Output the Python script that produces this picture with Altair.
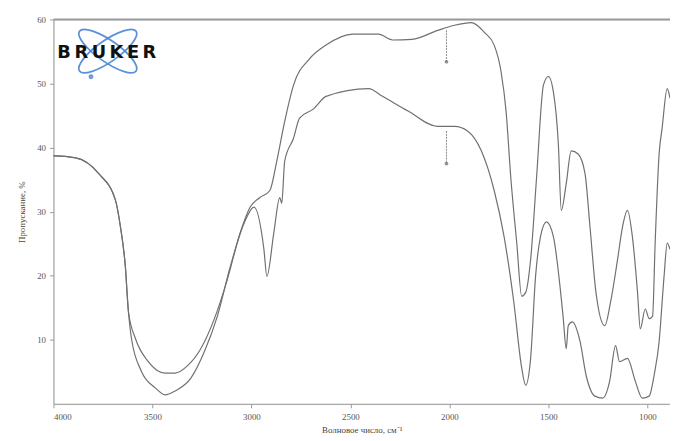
import altair as alt
import pandas as pd

# ---- data (wavenumber, cm-1 / transmittance, %) ----
common_wn = [4000, 3992, 3887, 3770, 3687, 3662, 3637, 3621]
common_t = [38.7, 38.7, 38.4, 35.9, 31.8, 27.7, 21.5, 14.3]

upper_wn = [3586, 3521, 3436, 3386, 3321, 3256, 3187, 3122, 3057, 3007, 2957, 2907,
            2872, 2832, 2787, 2708, 2623, 2488, 2408, 2358, 2288, 2189, 2059, 1974,
            1889, 1824, 1774, 1739, 1714, 1690, 1660, 1635, 1615, 1590, 1560, 1525,
            1500, 1475, 1450, 1435, 1410, 1385, 1350, 1315, 1290, 1260, 1216, 1186,
            1151, 1126, 1101, 1076, 1050, 1036, 1011, 991, 974, 961, 941, 926, 900, 886]
upper_t = [10.2, 6.6, 4.8, 4.8, 6.0, 8.6, 13.3, 19.4, 26.7, 30.7, 32.2, 33.3,
           37.9, 44.1, 49.8, 53.8, 56.0, 57.7, 57.7, 57.7, 56.8, 56.9, 58.3, 59.1,
           59.5, 58.0, 56.0, 51.8, 45.7, 35.3, 25.1, 16.8, 17.4, 22.5, 35.3, 49.8,
           51.1, 48.7, 40.6, 30.2, 34.4, 39.5, 39.0, 35.9, 27.6, 17.4, 12.2, 15.9,
           22.5, 27.6, 30.2, 26.1, 17.4, 11.7, 14.8, 13.3, 13.7, 25.1, 39.0, 43.0, 49.2, 47.7]

lower_wn = [3606, 3556, 3486, 3436, 3386, 3306, 3237, 3172, 3107, 3037, 2987, 2937,
            2922, 2887, 2857, 2847, 2832, 2787, 2757, 2688, 2623, 2408, 2338, 2209,
            2059, 1974, 1909, 1839, 1774, 1724, 1675, 1635, 1615, 1590, 1565, 1540,
            1510, 1475, 1440, 1425, 1410, 1400, 1380, 1340, 1310, 1265, 1226, 1191,
            1161, 1141, 1101, 1061, 1026, 991, 966, 941, 916, 900, 886]
lower_t = [10.2, 5.1, 2.5, 1.4, 2.0, 4.0, 8.2, 13.7, 21.4, 28.2, 30.7, 24.1,
           19.9, 26.7, 32.2, 31.3, 37.9, 41.5, 44.6, 46.0, 48.0, 49.2, 48.0, 45.7,
           43.3, 43.3, 42.6, 39.5, 33.3, 26.1, 15.9, 5.6, 2.9, 7.1, 19.9, 26.1,
           28.4, 26.1, 17.9, 13.3, 8.6, 12.2, 12.8, 9.7, 4.5, 1.2, 0.9, 3.5,
           9.1, 6.6, 7.1, 3.5, 0.9, 1.2, 4.5, 9.7, 19.9, 25.1, 24.1]

x_ticks = [4000, 3500, 3000, 2500, 2000, 1500, 1000]
y_ticks = [10, 20, 30, 40, 50, 60]

mark_wn = [2015, 2015]
mark_top = [58.3, 42.6]
mark_bot = [53.4, 37.5]

rows = []
for s, wn, t in (("a", common_wn + upper_wn, common_t + upper_t),
                 ("b", common_wn + lower_wn, common_t + lower_t)):
    for w, v in zip(wn, t):
        rows.append({"wn": w, "t": v, "s": s})
df = pd.DataFrame(rows)

W, H = 624, 389
xs = alt.Scale(domain=[886, 4000], reverse=True, nice=False, zero=False)
ys = alt.Scale(domain=[0, 60], nice=False, zero=False)

axis_common = dict(labelFont="Liberation Serif", titleFont="Liberation Serif",
                   labelFontSize=9, titleFontSize=9, labelColor="#555",
                   titleColor="#444", titleFontWeight="normal", grid=False,
                   domainColor="#9a9a9a", tickColor="#9a9a9a", tickSize=4)

lines = alt.Chart(df).mark_line(color="#707070", strokeWidth=1.2, interpolate="monotone").encode(
    x=alt.X("wn:Q", scale=xs,
            axis=alt.Axis(values=x_ticks, format="d", title="Волновое число, см⁻¹",
                          titlePadding=4, labelPadding=5, **axis_common)),
    y=alt.Y("t:Q", scale=ys,
            axis=alt.Axis(values=y_ticks, format="d", title="Пропускание, %",
                          titlePadding=10, labelPadding=4, **axis_common)),
    detail="s:N",
    order=alt.Order("wn:Q", sort="descending"),
)

top_line = alt.Chart(pd.DataFrame({"t": [60]})).mark_rule(color="#9a9a9a", strokeWidth=2).encode(
    y=alt.Y("t:Q", scale=ys))

mk = pd.DataFrame({"wn": mark_wn, "y1": mark_top, "y2": mark_bot})
mrule = alt.Chart(mk).mark_rule(color="#888", strokeWidth=1, strokeDash=[2, 1]).encode(
    x=alt.X("wn:Q", scale=xs), y=alt.Y("y1:Q", scale=ys), y2="y2:Q")
mdot = alt.Chart(mk).mark_point(filled=True, color="#666", size=14).encode(
    x=alt.X("wn:Q", scale=xs), y=alt.Y("y2:Q", scale=ys))

# Bruker logo (decoration)
ellipse = "M-1,0 A1,0.31 0 1,0 1,0 A1,0.31 0 1,0 -1,0 Z"
logo_df = pd.DataFrame({"a": [35, 145]})
logo_ell = alt.Chart(logo_df).mark_point(shape=ellipse, size=4900, filled=False,
                                         color="#4a86d8", strokeWidth=1.8, opacity=0.9).encode(
    x=alt.value(55), y=alt.value(32), angle=alt.Angle("a:Q", scale=None))
logo_dot = alt.Chart(pd.DataFrame({"k": [1]})).mark_point(filled=True, color="#3a6fc0", size=25).encode(
    x=alt.value(38), y=alt.value(58))
logo_txt = alt.Chart(pd.DataFrame({"k": ["B\u2009R\u2009U\u2009K\u2009E\u2009R"]})).mark_text(
    font="DejaVu Sans", fontWeight="bold", fontSize=18, color="#111", align="center",
    baseline="middle").encode(text="k:N", x=alt.value(54), y=alt.value(34))

chart = alt.layer(lines, top_line, mrule, mdot, logo_ell, logo_dot, logo_txt).properties(
    width=W, height=H,
    autosize=alt.AutoSizeParams(type="none"),
    padding={"left": 46, "top": 9, "right": 0, "bottom": 34},
).configure_view(stroke=None).configure(background="white")

chart.save("out.html", embed_options={"renderer": "svg", "actions": False})
